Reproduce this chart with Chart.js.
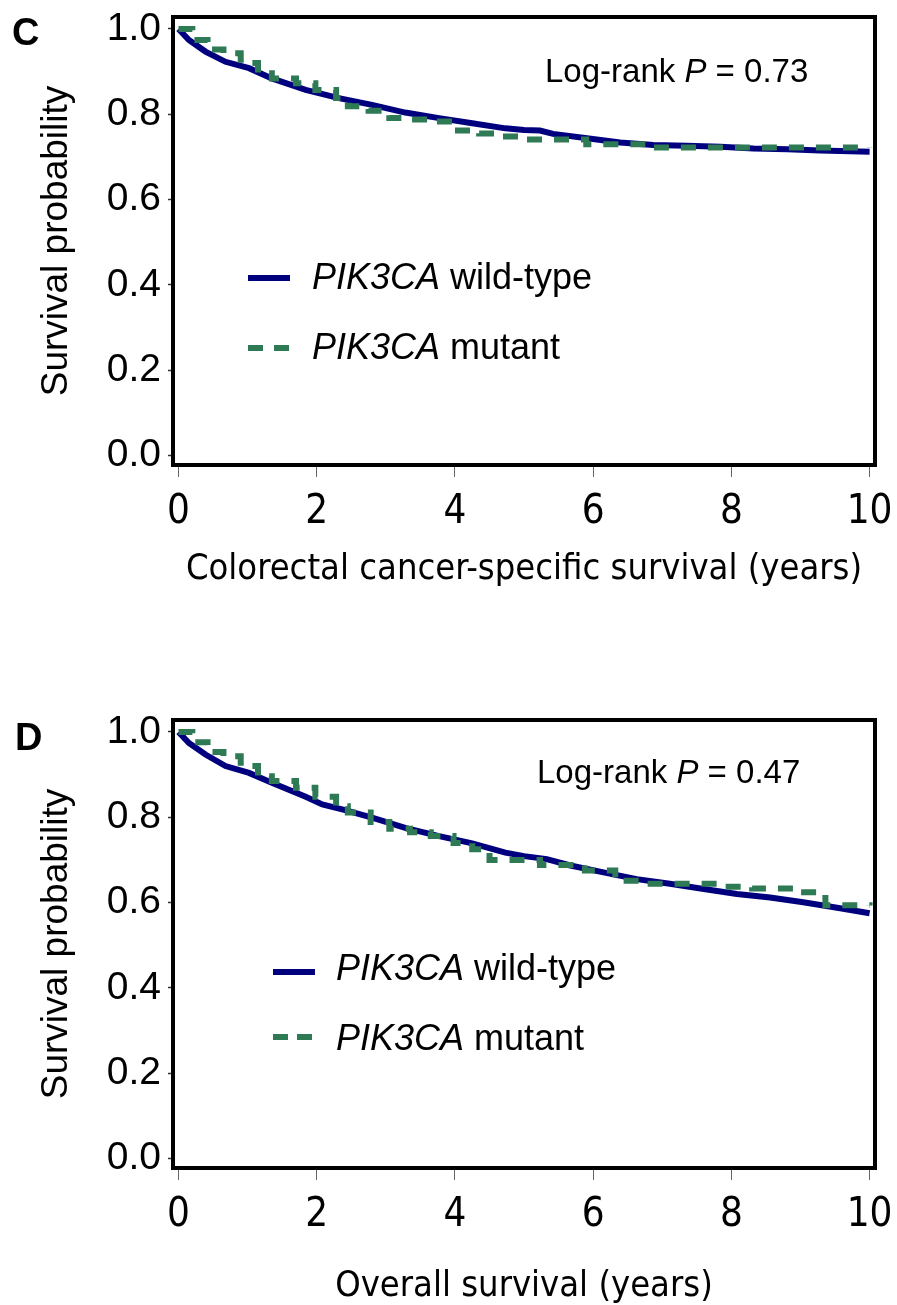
<!DOCTYPE html>
<html>
<head>
<meta charset="utf-8">
<title>PIK3CA survival curves</title>
<script src="https://cdn.jsdelivr.net/npm/chart.js@4.4.1/dist/chart.umd.min.js"></script>
<style>
  html, body { margin: 0; padding: 0; background: #fff; }
  #page { position: relative; width: 897px; height: 1305px; overflow: hidden;
          font-family: 'Liberation Sans', Arial, sans-serif; color: #000; }
  .panel { position: absolute; left: 0; }
  .tag { position: absolute; font-weight: bold; font-size: 38px; line-height: 38px; }
  .pval { position: absolute; font-size: 33px; line-height: 33px; white-space: nowrap; }
  .key { position: absolute; font-size: 36px; line-height: 36px; white-space: nowrap; }
  .swatch { position: absolute; height: 6px; }
  .solid { width: 42px; background: #00007f; }
  .dash { width: 15px; background: #2e7a55; }
</style>
</head>
<body>
<div id="page">
  <canvas id="chartC" class="panel" width="897" height="620" style="top:0px"></canvas>
  <canvas id="chartD" class="panel" width="897" height="602" style="top:703px"></canvas>

  <div class="tag" style="left:12px; top:13px">C</div>
  <div class="pval" style="left:545px; top:54px">Log-rank <i>P</i> = 0.73</div>
  <div class="swatch solid" style="left:248px; top:275px"></div>
  <div class="key" style="left:312px; top:259px"><i>PIK3CA</i> wild-type</div>
  <div class="swatch dash" style="left:248px; top:345px"></div>
  <div class="swatch dash" style="left:274px; top:345px"></div>
  <div class="key" style="left:312px; top:329px"><i>PIK3CA</i> mutant</div>

  <div class="tag" style="left:15px; top:718px">D</div>
  <div class="pval" style="left:537px; top:755px">Log-rank <i>P</i> = 0.47</div>
  <div class="swatch solid" style="left:273px; top:969px"></div>
  <div class="key" style="left:336px; top:950px"><i>PIK3CA</i> wild-type</div>
  <div class="swatch dash" style="left:273px; top:1034px"></div>
  <div class="swatch dash" style="left:297px; top:1034px"></div>
  <div class="key" style="left:336px; top:1020px"><i>PIK3CA</i> mutant</div>
</div>

<script>
const xTicks = [0, 2, 4, 6, 8, 10];
const yTicks = [0, 0.2, 0.4, 0.6, 0.8, 1.0];

// C: colorectal cancer-specific survival
const cssWildYears = [0, 0.15, 0.39, 0.68, 1.02, 1.35, 1.84, 2.32, 2.80, 3.28, 3.77, 4.25, 4.73, 5.0, 5.23, 5.42, 5.91, 6.39, 6.87, 7.35, 7.84, 8.32, 8.81, 9.28, 10.0];
const cssWildSurv  = [1.0, 0.974, 0.947, 0.923, 0.908, 0.884, 0.857, 0.838, 0.822, 0.804, 0.791, 0.779, 0.767, 0.763, 0.762, 0.754, 0.744, 0.734, 0.728, 0.726, 0.724, 0.720, 0.718, 0.715, 0.712];
const cssMutYears  = [0, 0.2, 0.42, 0.65, 0.9, 1.15, 1.35, 1.7, 1.98, 2.28, 2.45, 2.75, 3.05, 3.35, 3.7, 4.0, 4.35, 4.65, 4.98, 5.9, 6.82, 10.0];
const cssMutSurv   = [1.0, 0.974, 0.952, 0.943, 0.920, 0.896, 0.884, 0.873, 0.857, 0.838, 0.819, 0.808, 0.791, 0.788, 0.783, 0.762, 0.755, 0.748, 0.741, 0.730, 0.722, 0.721];

// D: overall survival
const osWildYears = [0, 0.15, 0.39, 0.68, 1.02, 1.35, 1.84, 2.08, 2.41, 2.80, 3.28, 3.77, 4.25, 4.73, 5.0, 5.33, 5.67, 6.15, 6.63, 7.11, 7.60, 8.08, 8.56, 9.04, 9.53, 10.0];
const osWildSurv  = [1.0, 0.974, 0.947, 0.920, 0.904, 0.881, 0.848, 0.830, 0.817, 0.799, 0.775, 0.756, 0.739, 0.717, 0.709, 0.702, 0.687, 0.671, 0.655, 0.644, 0.632, 0.620, 0.612, 0.601, 0.588, 0.575];
const osMutYears  = [0, 0.2, 0.42, 0.65, 0.9, 1.15, 1.35, 1.7, 1.98, 2.28, 2.45, 2.78, 3.05, 3.35, 3.65, 3.98, 4.25, 4.5, 5.23, 5.88, 6.32, 6.78, 7.88, 8.3, 8.95, 9.36, 10.0];
const osMutSurv   = [1.0, 0.976, 0.953, 0.943, 0.920, 0.896, 0.885, 0.869, 0.848, 0.826, 0.811, 0.789, 0.773, 0.765, 0.756, 0.740, 0.725, 0.700, 0.688, 0.675, 0.651, 0.644, 0.637, 0.633, 0.624, 0.594, 0.593];

const wildColor = '#00007f';
const mutColor = '#2e7a55';
const arial = "'Liberation Sans', Arial, sans-serif";
const condensed = "'DejaVu Sans Condensed', 'DejaVu Sans', sans-serif";

const toPoints = (xs, ys) => xs.map((x, i) => ({ x: x, y: ys[i] }));

// black box round the plot area
const framePlugin = {
  id: 'frame',
  afterDatasetsDraw(chart) {
    const { ctx, chartArea: a } = chart;
    ctx.save();
    ctx.strokeStyle = '#000';
    ctx.lineWidth = 4;
    ctx.strokeRect(a.left, a.top, a.right - a.left, a.bottom - a.top);
    ctx.restore();
  }
};

function drawPanel(id, cfg) {
  return new Chart(document.getElementById(id), {
    type: 'line',
    data: {
      datasets: [
        {
          label: 'PIK3CA mutant',
          data: toPoints(cfg.mutX, cfg.mutY),
          borderColor: mutColor,
          borderWidth: 6,
          borderDash: [15, 12],
          stepped: true,
          pointRadius: 0,
          order: 0
        },
        {
          label: 'PIK3CA wild-type',
          data: toPoints(cfg.wildX, cfg.wildY),
          borderColor: wildColor,
          borderWidth: 6,
          tension: 0,
          pointRadius: 0,
          order: 1
        }
      ]
    },
    options: {
      responsive: false,
      animation: false,
      layout: { padding: { top: 17, right: 22, bottom: 0, left: 0 } },
      plugins: { legend: { display: false }, tooltip: { enabled: false } },
      scales: {
        x: {
          type: 'linear',
          min: -0.08,
          max: 10.078,
          afterBuildTicks: s => { s.ticks = xTicks.map(v => ({ value: v })); },
          afterFit: s => { s.height = cfg.xAxisHeight; },
          grid: { drawOnChartArea: false, tickLength: 12, tickWidth: 1, tickColor: '#666' },
          border: { display: false },
          ticks: {
            padding: 0, color: '#000', autoSkip: false, maxRotation: 0,
            font: { family: condensed, size: 40, lineHeight: 1.8 },
            callback: v => String(v)
          },
          title: {
            display: true, text: cfg.xTitle, color: '#000',
            font: { family: condensed, size: 36, lineHeight: 1 },
            padding: { top: 0, bottom: cfg.xTitlePad }
          }
        },
        y: {
          type: 'linear',
          min: -0.022,
          max: 1.028,
          afterBuildTicks: s => { s.ticks = yTicks.map(v => ({ value: v })); },
          afterFit: s => { s.width = 173; },
          grid: { drawOnChartArea: false, tickLength: 5, tickWidth: 1.5, tickColor: '#333' },
          border: { display: false },
          ticks: {
            padding: 7, color: '#000',
            font: { family: arial, size: 39, lineHeight: 0.4 },
            callback: v => v.toFixed(1)
          },
          title: {
            display: true, text: 'Survival probability', color: '#000',
            font: { family: arial, size: 37, lineHeight: 1.2 },
            padding: { top: 35, bottom: 0 }
          }
        }
      }
    },
    plugins: [framePlugin]
  });
}

drawPanel('chartC', {
  wildX: cssWildYears, wildY: cssWildSurv,
  mutX: cssMutYears, mutY: cssMutSurv,
  xTitle: 'Colorectal cancer-specific survival (years)',
  xAxisHeight: 155, xTitlePad: 32
});

drawPanel('chartD', {
  wildX: osWildYears, wildY: osWildSurv,
  mutX: osMutYears, mutY: osMutSurv,
  xTitle: 'Overall survival (years)',
  xAxisHeight: 137, xTitlePad: 0
});
</script>
</body>
</html>
